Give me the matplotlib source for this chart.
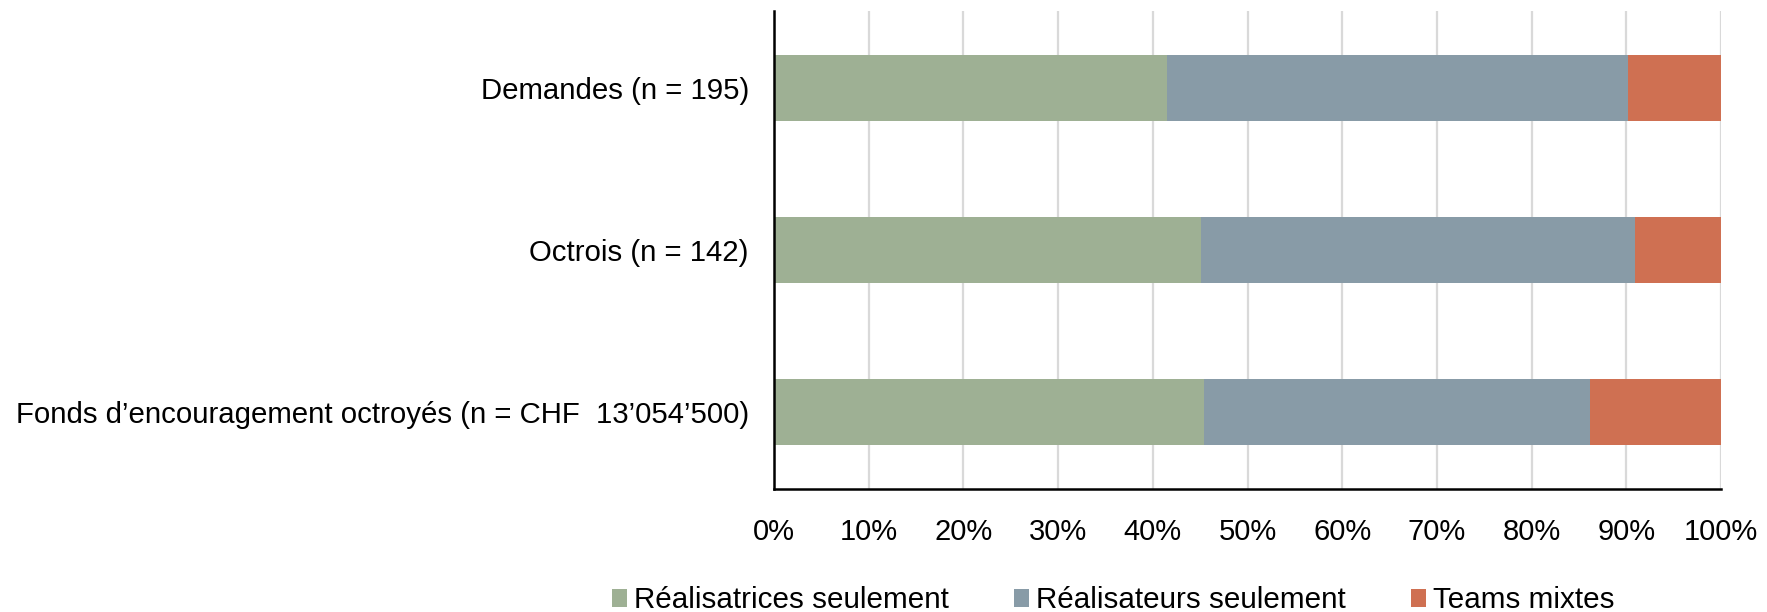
import numpy as np
import matplotlib
matplotlib.use('Agg')
import matplotlib.pyplot as plt
from matplotlib.patches import Patch
from matplotlib.ticker import PercentFormatter

plt.rcParams['font.family'] = ['Liberation Sans', 'DejaVu Sans']

# donnees (en %)
categories = ['Demandes (n = 195)',
              'Octrois (n = 142)',
              'Fonds d\u2019encouragement octroyés (n = CHF  13\u2019054\u2019500)']
realisatrices = [41.5, 45.1, 45.4]
realisateurs = [48.7, 45.8, 40.8]
teams_mixtes = [9.8, 9.1, 13.8]

series_names = ['Réalisatrices seulement', 'Réalisateurs seulement', 'Teams mixtes']
colors = ['#9EB094', '#889BA7', '#CF7052']
x_ticks = np.arange(0, 101, 10)

fig = plt.figure(figsize=(17.67, 6.12), dpi=100)
ax = fig.add_axes([0.438, 0.201, 0.536, 0.781])

y = np.arange(len(categories))
left = np.zeros(len(categories))
for vals, name, c in zip([realisatrices, realisateurs, teams_mixtes], series_names, colors):
    ax.barh(y, vals, left=left, height=0.41, color=c, label=name, zorder=3)
    left = left + np.array(vals)

ax.set_ylim(len(categories) - 0.525, -0.475)
ax.set_xlim(0, 100)
ax.set_yticks(y)
ax.set_yticklabels(categories)
ax.set_xticks(x_ticks)
ax.xaxis.set_major_formatter(PercentFormatter(decimals=0))
ax.tick_params(axis='x', length=0, pad=21, labelsize=21)
ax.tick_params(axis='y', length=0, pad=18, labelsize=21.2)

ax.grid(axis='x', color='#D9D9D9', linewidth=1.6, zorder=0)
for s in ['top', 'right']:
    ax.spines[s].set_visible(False)
for s in ['left', 'bottom']:
    ax.spines[s].set_color('black')
    ax.spines[s].set_linewidth(1.8)
    ax.spines[s].set_zorder(4)

handles = [Patch(facecolor=c, label=n) for c, n in zip(colors, series_names)]
fig.legend(handles=handles, loc='center', bbox_to_anchor=(0.63, 0.019), ncol=3,
           frameon=False, fontsize=21.3, handlelength=0.5, handleheight=0.55,
           handletextpad=0.25, columnspacing=2.2)

fig.savefig('out.png', dpi=100)
